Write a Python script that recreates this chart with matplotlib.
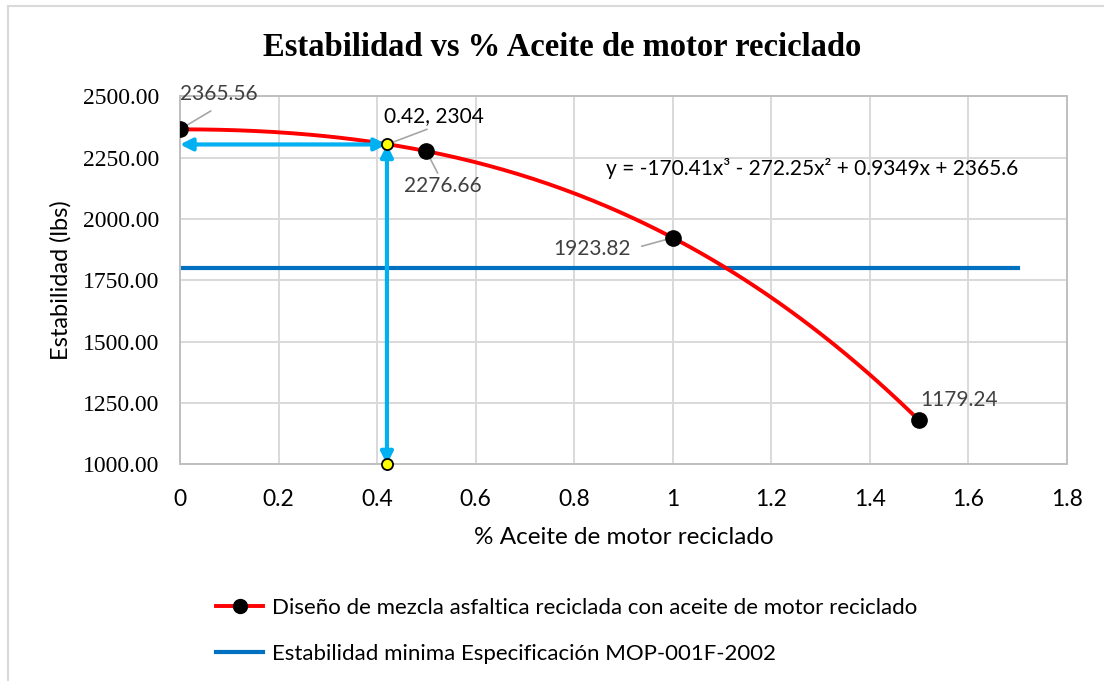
import matplotlib
matplotlib.use("Agg")
import matplotlib.pyplot as plt  # noqa: E402
from matplotlib.lines import Line2D  # noqa: E402
import numpy as np  # noqa: E402

# data
aceite = [0, 0.5, 1, 1.5]
estabilidad = [2365.56, 2276.66, 1923.82, 1179.24]
trend = [-170.41, -272.25, 0.9349, 2365.6]   # cubic trendline shown on chart
minimo = 1800
minimo_x = [0, 1.7]
optimo = (0.42, 2304)
y_base = 1000
x_ticks = [0, 0.2, 0.4, 0.6, 0.8, 1, 1.2, 1.4, 1.6, 1.8]
y_ticks = [1000, 1250, 1500, 1750, 2000, 2250, 2500]

RED, BLACK, BLUE, CYAN = "#ff0000", "#000000", "#0070c0", "#00b0f0"
GRID, LEAD, LBL = "#d9d9d9", "#a6a6a6", "#404040"
SANS = ["Lato", "DejaVu Sans"]

plt.rcParams.update({"font.family": SANS, "font.size": 15,
                     "font.serif": ["Liberation Serif", "DejaVu Serif"]})

fig = plt.figure(figsize=(11.04, 6.81), dpi=100)
ax = fig.add_axes([0.163, 0.318, 0.8035, 0.5405])

xs = np.linspace(aceite[0], aceite[-1], 200)
ax.plot(xs, np.polyval(trend, xs), color=RED, lw=2.8, zorder=3)
ax.plot(aceite, estabilidad, "o", color=BLACK, ms=11, zorder=4)
ax.plot(minimo_x, [minimo, minimo], color=BLUE, lw=3, zorder=2)

arrow = dict(arrowstyle="<|-|>", color=CYAN, lw=3, mutation_scale=18,
             shrinkA=0, shrinkB=0)
ax.annotate("", xy=(0, optimo[1]), xytext=optimo, arrowprops=arrow, zorder=3)
ax.annotate("", xy=(optimo[0], y_base), xytext=optimo, arrowprops=arrow, zorder=3)
ax.plot([optimo[0], optimo[0]], [optimo[1], y_base], "o", color="#ffff00",
        mec=BLACK, mew=1.3, ms=8, zorder=5, clip_on=False)

# data labels with leader lines
lab = dict(color=LBL, fontsize=15, va="center")
ax.annotate(f"{estabilidad[0]:.2f}", xy=(aceite[0], estabilidad[0]),
            xytext=(0.0, 2510), ha="left", annotation_clip=False, **lab,
            arrowprops=dict(arrowstyle="-", color=LEAD, lw=1.2, shrinkA=6,
                            shrinkB=4, relpos=(0.55, 0)))
ax.annotate(f"{optimo[0]}, {optimo[1]}", xy=optimo, xytext=(0.415, 2418),
            ha="left", color="black", fontsize=15, va="center",
            arrowprops=dict(arrowstyle="-", color=LEAD, lw=1.2, shrinkA=0,
                            shrinkB=4, relpos=(0.5, 0)))
ax.annotate(f"{estabilidad[1]:.2f}", xy=(aceite[1], estabilidad[1]),
            xytext=(0.455, 2135), ha="left", **lab,
            arrowprops=dict(arrowstyle="-", color=LEAD, lw=1.2, shrinkA=0,
                            shrinkB=5, relpos=(0.45, 1)))
ax.annotate(f"{estabilidad[2]:.2f}", xy=(aceite[2], estabilidad[2]),
            xytext=(0.915, 1877), ha="right", **lab,
            arrowprops=dict(arrowstyle="-", color=LEAD, lw=1.2, shrinkA=6,
                            shrinkB=6, relpos=(1, 0.5)))
ax.text(1.503, 1262, f"{estabilidad[3]:.2f}", ha="left", **lab)

ax.text(0.865, 2208, "y = -170.41x³ - 272.25x² + 0.9349x + 2365.6",
        fontsize=15, va="center", ha="left", color="black")

ax.set_xlim(0, 1.8)
ax.set_ylim(1000, 2500)
ax.set_xticks(x_ticks)
ax.set_xticklabels([f"{v:g}" for v in x_ticks])
ax.set_yticks(y_ticks)
ax.set_yticklabels([f"{v:.2f}" for v in y_ticks], fontfamily="serif", fontsize=17)
ax.tick_params(length=0)
ax.tick_params(axis="x", pad=18, labelsize=16.5)
ax.tick_params(axis="y", pad=15)
ax.grid(True, color=GRID, lw=1.4)
ax.set_axisbelow(True)
for sp in ax.spines.values():
    sp.set_color("#bfbfbf")
    sp.set_linewidth(1.4)
ax.set_xlabel("% Aceite de motor reciclado", fontsize=17.5, labelpad=12)
ax.set_ylabel("Estabilidad (lbs)", fontsize=17, labelpad=8)

fig.text(0.509, 0.93, "Estabilidad vs % Aceite de motor reciclado",
         family="serif", weight="bold", fontsize=23.5, ha="center", va="center")

handles = [Line2D([], [], color=RED, lw=2.8, marker="o", mfc=BLACK, mec=BLACK, ms=10),
           Line2D([], [], color=BLUE, lw=3)]
labels = ["Diseño de mezcla asfaltica reciclada con aceite de motor reciclado",
          "Estabilidad minima Especificación MOP-001F-2002"]
fig.legend(handles, labels, loc="upper left", bbox_to_anchor=(0.188, 0.135),
           frameon=False, fontsize=16, handlelength=2.1, handletextpad=0.4,
           labelspacing=1.15, borderaxespad=0)

# outer chart frame (left and top edges visible)
fig.add_artist(Line2D([7.5 / 1104, 7.5 / 1104], [0, 1 - 6 / 681], color=GRID, lw=1.5))
fig.add_artist(Line2D([7.5 / 1104, 1], [1 - 6 / 681, 1 - 6 / 681], color=GRID, lw=1.5))

fig.canvas.draw()
for t in ax.get_yticklabels():
    t.set_fontfamily("serif")
    t.set_fontsize(17)

fig.savefig("out.png", dpi=100)
